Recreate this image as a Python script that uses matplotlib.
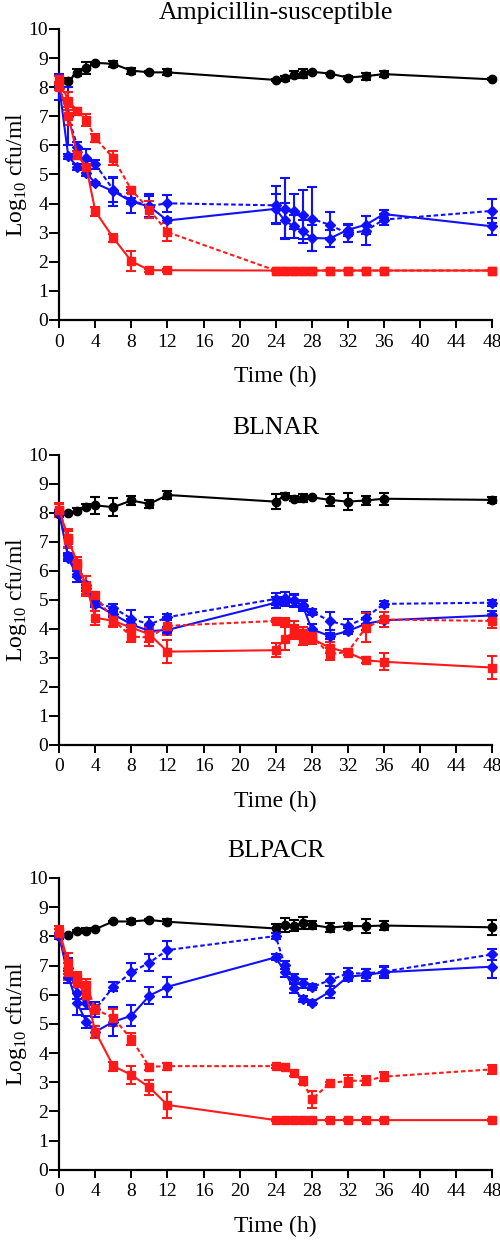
import matplotlib
matplotlib.use("Agg")
import matplotlib.pyplot as plt
import numpy as np

plt.rcParams['font.family'] = ['Liberation Serif', 'DejaVu Serif']
plt.rcParams['mathtext.fontset'] = 'custom'
plt.rcParams['mathtext.rm'] = 'Liberation Serif'

time_h = [0, 1, 2, 3, 4, 6, 8, 10, 12, 24, 25, 26, 27, 28, 30, 32, 34, 36, 48]
panel_titles = ["Ampicillin-susceptible", "BLNAR", "BLPACR"]
x_ticks = list(range(0, 49, 4))
y_ticks = list(range(0, 11))

# ---- Panel 1: Ampicillin-susceptible ----
p1_control = [8.02, 8.22, 8.5, 8.65, 8.84, 8.8, 8.57, 8.51, 8.51, 8.25, 8.3, 8.42, 8.47, 8.53, 8.47, 8.33, 8.38, 8.45, 8.27]
p1_control_err = [0.05, 0.08, 0.12, 0.2, 0.03, 0.1, 0.1, 0.03, 0.1, 0.03, 0.08, 0.12, 0.15, 0.03, 0.03, 0.06, 0.12, 0.1, 0.03]
p1_blue_solid = [8.0, 5.62, 5.27, 5.05, 4.7, 4.42, 4.07, 3.9, 3.42, 3.82, 3.42, 3.22, 3.05, 2.82, 2.8, 3.1, 3.27, 3.64, 3.22]
p1_blue_solid_err = [0.45, 0.1, 0.1, 0.1, 0.05, 0.5, 0.4, 0.35, 0.1, 0.5, 0.6, 0.4, 0.4, 0.45, 0.3, 0.2, 0.3, 0.15, 0.3]
p1_blue_dash = [8.0, 7.0, 5.96, 5.56, 5.35, 4.47, 4.1, 3.92, 4.01, 3.94, 3.82, 3.73, 3.62, 3.48, 3.27, 2.97, 3.07, 3.45, 3.75]
p1_blue_dash_err = [0.1, 1.0, 0.15, 0.3, 0.15, 0.4, 0.1, 0.4, 0.3, 0.65, 1.05, 0.6, 0.85, 1.1, 0.45, 0.3, 0.5, 0.2, 0.4]
p1_red_solid = [8.02, 7.01, 5.67, 5.25, 3.73, 2.82, 2.02, 1.71, 1.71, 1.7, 1.7, 1.7, 1.7, 1.7, 1.7, 1.7, 1.7, 1.7, 1.7]
p1_red_solid_err = [0.1, 0.3, 0.15, 0.2, 0.15, 0.15, 0.35, 0.05, 0.05, 0.03, 0.03, 0.03, 0.03, 0.03, 0.03, 0.03, 0.03, 0.03, 0.03]
p1_red_dash = [8.27, 7.53, 7.19, 6.87, 6.25, 5.56, 4.47, 3.79, 3.02, 1.7, 1.7, 1.7, 1.7, 1.7, 1.7, 1.7, 1.7, 1.7, 1.7]
p1_red_dash_err = [0.1, 0.3, 0.1, 0.2, 0.15, 0.25, 0.1, 0.3, 0.3, 0.03, 0.03, 0.03, 0.03, 0.03, 0.03, 0.03, 0.03, 0.03, 0.03]

# ---- Panel 2: BLNAR ----
p2_control = [7.97, 7.99, 8.08, 8.22, 8.26, 8.2, 8.43, 8.31, 8.62, 8.39, 8.6, 8.49, 8.52, 8.54, 8.45, 8.39, 8.43, 8.49, 8.45]
p2_control_err = [0.05, 0.03, 0.1, 0.1, 0.3, 0.3, 0.15, 0.15, 0.15, 0.25, 0.1, 0.08, 0.15, 0.03, 0.2, 0.3, 0.15, 0.2, 0.1]
p2_blue_solid = [8.0, 6.44, 5.81, 5.41, 4.84, 4.5, 4.15, 3.92, 3.96, 4.9, 4.95, 4.95, 4.8, 3.98, 3.75, 3.92, 4.17, 4.29, 4.46]
p2_blue_solid_err = [0.1, 0.1, 0.2, 0.1, 0.1, 0.1, 0.2, 0.2, 0.1, 0.2, 0.15, 0.2, 0.2, 0.2, 0.1, 0.1, 0.2, 0.1, 0.15]
p2_blue_dash = [8.0, 6.5, 5.9, 5.5, 4.9, 4.72, 4.35, 4.15, 4.4, 5.03, 5.07, 4.99, 4.82, 4.59, 4.27, 4.1, 4.38, 4.86, 4.9]
p2_blue_dash_err = [0.1, 0.1, 0.1, 0.1, 0.1, 0.15, 0.3, 0.25, 0.1, 0.2, 0.2, 0.2, 0.15, 0.1, 0.3, 0.25, 0.2, 0.1, 0.1]
p2_red_solid = [8.1, 7.08, 6.27, 5.47, 4.38, 4.27, 4.04, 3.81, 3.21, 3.26, 3.66, 3.89, 3.64, 3.66, 3.35, 3.18, 2.91, 2.86, 2.66]
p2_red_solid_err = [0.25, 0.3, 0.2, 0.35, 0.25, 0.2, 0.1, 0.25, 0.4, 0.25, 0.4, 0.25, 0.2, 0.2, 0.2, 0.1, 0.1, 0.3, 0.4]
p2_red_dash = [8.1, 7.13, 6.2, 5.4, 5.15, 4.3, 3.73, 3.7, 4.1, 4.27, 4.23, 3.98, 3.86, 3.75, 3.12, 3.2, 4.04, 4.32, 4.27]
p2_red_dash_err = [0.2, 0.3, 0.15, 0.2, 0.1, 0.2, 0.2, 0.3, 0.3, 0.05, 0.15, 0.3, 0.2, 0.25, 0.2, 0.1, 0.5, 0.25, 0.25]

# ---- Panel 3: BLPACR ----
p3_control = [8.01, 8.05, 8.18, 8.19, 8.25, 8.51, 8.51, 8.56, 8.5, 8.27, 8.39, 8.37, 8.45, 8.39, 8.3, 8.35, 8.35, 8.37, 8.31]
p3_control_err = [0.03, 0.03, 0.03, 0.08, 0.03, 0.03, 0.1, 0.05, 0.08, 0.15, 0.25, 0.2, 0.2, 0.15, 0.15, 0.1, 0.25, 0.15, 0.25]
p3_blue_solid = [8.0, 6.6, 5.7, 5.07, 4.73, 5.07, 5.28, 5.97, 6.27, 7.28, 6.79, 6.22, 5.84, 5.73, 6.1, 6.62, 6.67, 6.77, 6.96]
p3_blue_solid_err = [0.1, 0.2, 0.4, 0.2, 0.2, 0.5, 0.35, 0.3, 0.35, 0.1, 0.2, 0.15, 0.1, 0.1, 0.2, 0.15, 0.2, 0.2, 0.4]
p3_blue_dash = [8.0, 6.9, 6.05, 5.7, 5.5, 6.27, 6.77, 7.1, 7.53, 8.01, 7.02, 6.56, 6.39, 6.25, 6.5, 6.73, 6.73, 6.79, 7.38]
p3_blue_dash_err = [0.1, 0.35, 0.2, 0.2, 0.25, 0.15, 0.3, 0.3, 0.3, 0.1, 0.15, 0.15, 0.15, 0.1, 0.2, 0.2, 0.15, 0.15, 0.2]
p3_red_solid = [8.2, 7.07, 6.39, 5.99, 4.73, 3.55, 3.25, 2.82, 2.22, 1.7, 1.7, 1.7, 1.7, 1.7, 1.7, 1.7, 1.7, 1.7, 1.7]
p3_red_solid_err = [0.15, 0.35, 0.3, 0.3, 0.2, 0.15, 0.3, 0.25, 0.45, 0.03, 0.03, 0.03, 0.03, 0.03, 0.03, 0.03, 0.03, 0.03, 0.03]
p3_red_dash = [8.1, 6.79, 6.59, 6.33, 5.5, 5.21, 4.47, 3.53, 3.55, 3.55, 3.51, 3.3, 3.05, 2.41, 2.96, 3.05, 3.05, 3.19, 3.44]
p3_red_dash_err = [0.15, 0.3, 0.2, 0.2, 0.15, 0.3, 0.2, 0.1, 0.12, 0.05, 0.05, 0.1, 0.12, 0.3, 0.05, 0.2, 0.15, 0.15, 0.15]

panels = [
    [(p1_control, p1_control_err), (p1_blue_dash, p1_blue_dash_err), (p1_blue_solid, p1_blue_solid_err),
     (p1_red_dash, p1_red_dash_err), (p1_red_solid, p1_red_solid_err)],
    [(p2_control, p2_control_err), (p2_blue_dash, p2_blue_dash_err), (p2_blue_solid, p2_blue_solid_err),
     (p2_red_dash, p2_red_dash_err), (p2_red_solid, p2_red_solid_err)],
    [(p3_control, p3_control_err), (p3_blue_dash, p3_blue_dash_err), (p3_blue_solid, p3_blue_solid_err),
     (p3_red_dash, p3_red_dash_err), (p3_red_solid, p3_red_solid_err)],
]

BLACK = "#000000"
BLUE = "#1010ff"
RED = "#ff1a1a"
DASH = (0, (2.2, 1.3))
styles = [
    dict(color=BLACK, marker='o', ms=6, ls='-'),
    dict(color=BLUE, marker='D', ms=5.2, ls=DASH),
    dict(color=BLUE, marker='D', ms=5.2, ls='-'),
    dict(color=RED, marker='s', ms=6, ls=DASH),
    dict(color=RED, marker='s', ms=6, ls='-'),
]

W, H = 500, 1241
fig = plt.figure(figsize=(W / 100, H / 100), dpi=100)

# pixel layout: (axis top y px, axis bottom y px, title y px)
layout = [(29, 320, 13.5), (455, 744.6, 428), (878, 1169.7, 851)]
left_px, right_px = 59.3, 492

for (top, bot, ty), title, series in zip(layout, panel_titles, panels):
    ax_h = bot - top
    ax_w = right_px - left_px
    ax = fig.add_axes([left_px / W, 1 - bot / H, ax_w / W, ax_h / H])
    for (vals, errs), st in zip(series, styles):
        ax.errorbar(time_h, vals, yerr=errs, color=st['color'], marker=st['marker'],
                    ms=st['ms'], ls=st['ls'], lw=1.5, elinewidth=1.5, capsize=3.5,
                    capthick=1.5, clip_on=False, zorder=3)
    ax.set_xlim(0, 48)
    ax.set_ylim(0, 10)
    ax.set_xticks(x_ticks)
    ax.set_yticks(y_ticks)
    for s in ['top', 'right']:
        ax.spines[s].set_visible(False)
    for s in ['left', 'bottom']:
        ax.spines[s].set_linewidth(1.6)
    ax.tick_params(axis='x', direction='out', length=5.8, width=1.4, labelsize=14, pad=4)
    ax.tick_params(axis='y', direction='out', length=7, width=1.4, labelsize=14, pad=1)
    ax.set_xlabel("Time (h)", fontsize=17)
    ax.xaxis.set_label_coords(0.5, -46 / ax_h)
    ax.set_ylabel(r"Log$_{\mathrm{10}}$ cfu/ml", fontsize=17)
    ax.yaxis.set_label_coords(-(left_px - 29) / ax_w, 0.5)
    fig.text(0.5 * (left_px + right_px) / W, 1 - ty / H, title, ha='center', va='center', fontsize=18.5)

fig.savefig("out.png", dpi=100)
